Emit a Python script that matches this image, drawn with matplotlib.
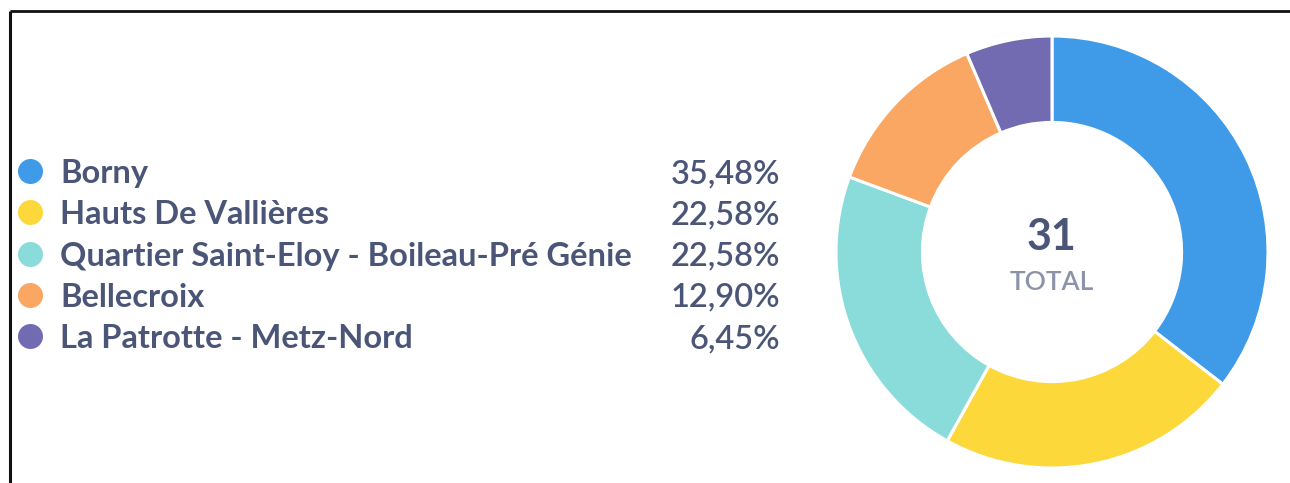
import matplotlib.pyplot as plt

# Data
districts = ['Borny', 'Hauts De Vallières', 'Quartier Saint-Eloy - Boileau-Pré Génie',
             'Bellecroix', 'La Patrotte - Metz-Nord']
counts = [11, 7, 7, 4, 2]
colors = ['#3F9AE8', '#FDD83B', '#8ADCDB', '#F9A762', '#736BB1']

total = sum(counts)
text_col = '#4A5577'
W, H = 1290, 483

fig = plt.figure(figsize=(W / 100, H / 100), dpi=100)

# Overlay in pixel coordinates for the legend and the frame
bg = fig.add_axes([0, 0, 1, 1])
bg.set_xlim(0, W)
bg.set_ylim(H, 0)
bg.axis('off')

# partial frame (top and left only)
bg.plot([9.5, W], [10.5, 10.5], color='#111111', lw=2, solid_capstyle='butt')
bg.plot([9.5, 9.5], [10.5, H], color='#111111', lw=2.2, solid_capstyle='butt')

y0, dy = 171, 41.3
for i, (name, c, n) in enumerate(zip(districts, colors, counts)):
    y = y0 + i * dy
    bg.plot(30, y, 'o', color=c, markersize=18, markeredgewidth=0)
    bg.text(60, y, name, fontsize=23.5, fontweight='bold', family='Lato',
            color=text_col, va='center_baseline', ha='left')
    pct = f'{100 * n / total:.2f}%'.replace('.', ',')
    bg.text(780, y, pct, fontsize=23.5, fontweight='semibold', family='Lato',
            color=text_col, va='center_baseline', ha='right')

# Donut
cx, cy, r = 1052, 252, 216
ax = fig.add_axes([(cx - r) / W, (H - cy - r) / H, 2 * r / W, 2 * r / H])
ax.pie(counts, colors=colors, startangle=90, counterclock=False, radius=1,
       wedgeprops=dict(width=0.4, edgecolor='white', linewidth=2.2))
ax.set_xlim(-1, 1)
ax.set_ylim(-1, 1)
ax.set_aspect('equal')
ax.axis('off')

ax.text(0, 0.07, str(total), ha='center', va='center', fontsize=31,
        fontweight='bold', family='Lato', color=text_col)
ax.text(0, -0.14, 'TOTAL', ha='center', va='center', fontsize=19,
        fontweight='semibold', family='Lato', color='#8C92A8')

fig.savefig('out.png', dpi=100)
